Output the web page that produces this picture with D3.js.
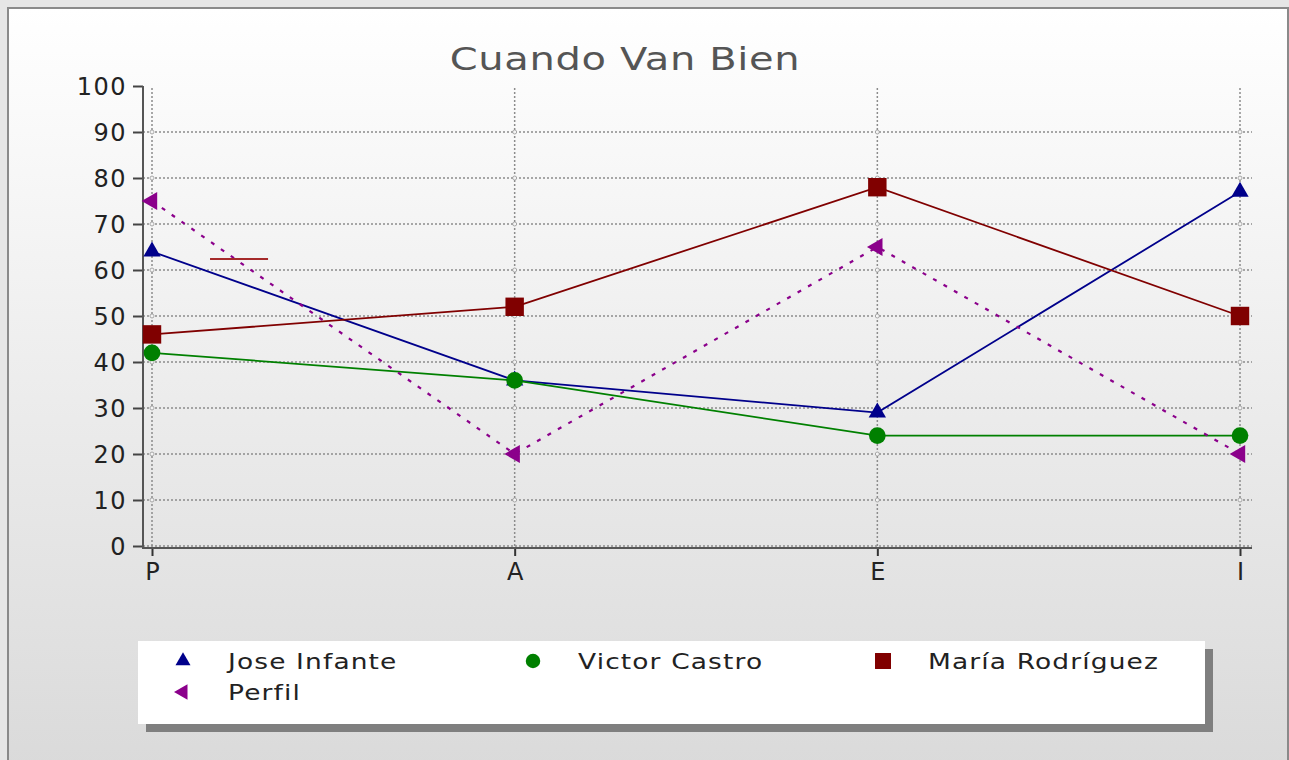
<!DOCTYPE html>
<html>
<head>
<meta charset="utf-8">
<script src="https://cdn.jsdelivr.net/npm/d3@7/dist/d3.min.js"></script>
<style>
  body { margin: 0; background: #e6e6e6; }
  svg { display: block; font-family: "DejaVu Sans", Verdana, sans-serif; }
</style>
</head>
<body>
<script>
// datos
const categorias = ["P", "A", "E", "I"];
const joseInfante = [64, 36, 29, 77];
const victorCastro = [42, 36, 24, 24];
const mariaRodriguez = [46, 52, 78, 50];
const perfil = [75, 20, 65, 20];
const yTicks = [0, 10, 20, 30, 40, 50, 60, 70, 80, 90, 100];
const titulo = "Cuando Van Bien";
// trazo suelto que aparece en el grafico original (valor, desde, hasta entre P y A)
const trazoSuelto = [62.4, 0.16, 0.32];

function dibujar() {
  let width = 1289;
  let height = 760;

  let svg = d3.select("body").append("svg")
    .attr("width", width).attr("height", height);

  let defs = svg.append("defs");
  let grad = defs.append("linearGradient").attr("id", "fondo")
    .attr("x1", 0).attr("y1", 0).attr("x2", 0).attr("y2", 1);
  grad.append("stop").attr("offset", "0%").attr("stop-color", "#ffffff");
  grad.append("stop").attr("offset", "100%").attr("stop-color", "#dadada");

  // marco y fondo
  svg.append("rect")
    .attr("x", 8).attr("y", 8).attr("width", 1280).attr("height", 760)
    .style("fill", "url(#fondo)")
    .style("stroke", "#8a8a8a").style("stroke-width", 2);

  // titulo
  svg.append("text")
    .attr("transform", "translate(625,70) scale(1.25,1)")
    .attr("text-anchor", "middle")
    .style("font-size", "32px")
    .style("letter-spacing", "0.5px")
    .style("fill", "#555")
    .text(titulo);

  // escalas
  let xScale = d3.scalePoint().domain(categorias).range([152, 1240]);
  let yScale = d3.scaleLinear().domain([0, 100]).range([546, 86]);
  let left = 143, right = 1252, bottom = 548;

  let graph = svg.append("g");

  // rejilla
  graph.selectAll(".hgrid")
    .data(yTicks.filter(function(d) { return d < 100; }))
    .enter().append("line")
      .attr("x1", left).attr("x2", right)
      .attr("y1", function(d) { return yScale(d); })
      .attr("y2", function(d) { return yScale(d); })
      .style("stroke", "#8c8c8c").style("stroke-width", 1.5)
      .style("stroke-dasharray", "2,2");

  graph.selectAll(".vgrid")
    .data(categorias)
    .enter().append("line")
      .attr("x1", function(d) { return xScale(d); })
      .attr("x2", function(d) { return xScale(d); })
      .attr("y1", yScale(100) + 2).attr("y2", yScale(0))
      .style("stroke", "#8c8c8c").style("stroke-width", 1.5)
      .style("stroke-dasharray", "2,2");

  // circulitos en los cruces de la rejilla
  let cruces = [];
  categorias.forEach(function(c) {
    yTicks.forEach(function(t) { if (t > 0 && t < 100) cruces.push([c, t]); });
  });
  graph.selectAll(".cruce")
    .data(cruces)
    .enter().append("circle")
      .attr("cx", function(d) { return xScale(d[0]); })
      .attr("cy", function(d) { return yScale(d[1]); })
      .attr("r", 2)
      .style("fill", "#f4f4f4").style("stroke", "#999").style("stroke-width", 0.8);

  // ejes
  let yAxis = d3.axisLeft(yScale).tickValues(yTicks).tickSize(10).tickPadding(6);
  let gy = graph.append("g").attr("transform", "translate(" + left + ",0)").call(yAxis);
  gy.select(".domain").remove();
  gy.selectAll(".tick line").style("stroke", "#444").style("stroke-width", 2);
  gy.selectAll(".tick text")
    .style("font-size", "24px").style("fill", "#222")
    .style("letter-spacing", "1.5px")
    .style("font-family", "DejaVu Sans, sans-serif")
    .attr("dy", "0.36em");

  graph.append("line")
    .attr("x1", left).attr("x2", left).attr("y1", yScale(100)).attr("y2", bottom + 1)
    .style("stroke", "#555").style("stroke-width", 2);

  let xAxis = d3.axisBottom(xScale).tickSize(8).tickPadding(7);
  let gx = graph.append("g").attr("transform", "translate(0," + bottom + ")").call(xAxis);
  gx.select(".domain").remove();
  gx.selectAll(".tick line").style("stroke", "#333").style("stroke-width", 2);
  gx.selectAll(".tick text")
    .style("font-size", "24px").style("fill", "#222")
    .style("font-family", "DejaVu Sans, sans-serif");

  graph.append("line")
    .attr("x1", left).attr("x2", right).attr("y1", bottom).attr("y2", bottom)
    .style("stroke", "#555").style("stroke-width", 2);

  // series
  let series = [
    { nombre: "Jose Infante", valores: joseInfante, color: "#00008b", simbolo: "triangulo", trazo: null },
    { nombre: "Victor Castro", valores: victorCastro, color: "#008000", simbolo: "circulo", trazo: null },
    { nombre: "María Rodríguez", valores: mariaRodriguez, color: "#800000", simbolo: "cuadrado", trazo: null },
    { nombre: "Perfil", valores: perfil, color: "#8b008b", simbolo: "izquierda", trazo: "4,8" }
  ];

  let linea = d3.line()
    .x(function(d, i) { return xScale(categorias[i]); })
    .y(function(d) { return yScale(d); });

  series.forEach(function(s) {
    graph.append("path")
      .attr("d", linea(s.valores))
      .style("fill", "none")
      .style("stroke", s.color)
      .style("stroke-width", s.trazo ? 2.2 : 1.8)
      .style("stroke-dasharray", s.trazo);
  });

  // trazo suelto
  let xa = xScale(categorias[0]), xb = xScale(categorias[1]);
  graph.append("line")
    .attr("x1", xa + (xb - xa) * trazoSuelto[1])
    .attr("x2", xa + (xb - xa) * trazoSuelto[2])
    .attr("y1", yScale(trazoSuelto[0])).attr("y2", yScale(trazoSuelto[0]))
    .style("stroke", "#a52a2a").style("stroke-width", 2);

  function simbolo(tipo, escala) {
    if (tipo === "triangulo") return { d: d3.symbol().type(d3.symbolTriangle).size(130 * escala)(), rot: 0 };
    if (tipo === "circulo") return { d: d3.symbol().type(d3.symbolCircle).size(220 * escala)(), rot: 0 };
    if (tipo === "cuadrado") return { d: d3.symbol().type(d3.symbolSquare).size(340 * escala)(), rot: 0 };
    return { d: d3.symbol().type(d3.symbolTriangle).size(140 * escala)(), rot: -90 };
  }

  series.forEach(function(s) {
    let sym = simbolo(s.simbolo, 1);
    graph.selectAll(null)
      .data(s.valores)
      .enter().append("path")
        .attr("d", sym.d)
        .attr("transform", function(d, i) {
          return "translate(" + xScale(categorias[i]) + "," + yScale(d) + ") rotate(" + sym.rot + ")";
        })
        .style("fill", s.color);
  });

  // leyenda
  let leyenda = svg.append("g");
  leyenda.append("rect")
    .attr("x", 146).attr("y", 649).attr("width", 1067).attr("height", 83)
    .style("fill", "#7f7f7f");
  leyenda.append("rect")
    .attr("x", 138).attr("y", 641).attr("width", 1067).attr("height", 83)
    .style("fill", "#ffffff");

  let posLeyenda = [[183, 661], [533, 661], [883, 661], [183, 692]];
  series.forEach(function(s, i) {
    let sym = simbolo(s.simbolo, 0.75);
    let p = posLeyenda[i];
    leyenda.append("path")
      .attr("d", sym.d)
      .attr("transform", "translate(" + p[0] + "," + p[1] + ") rotate(" + sym.rot + ")")
      .style("fill", s.color);
    leyenda.append("text")
      .attr("transform", "translate(" + (p[0] + 45) + "," + (p[1] + 8) + ") scale(1.26,1)")
      .style("font-size", "21px")
      .style("letter-spacing", "0.9px")
      .style("fill", "#222")
      .text(s.nombre);
  });
}

dibujar();
</script>
</body>
</html>
